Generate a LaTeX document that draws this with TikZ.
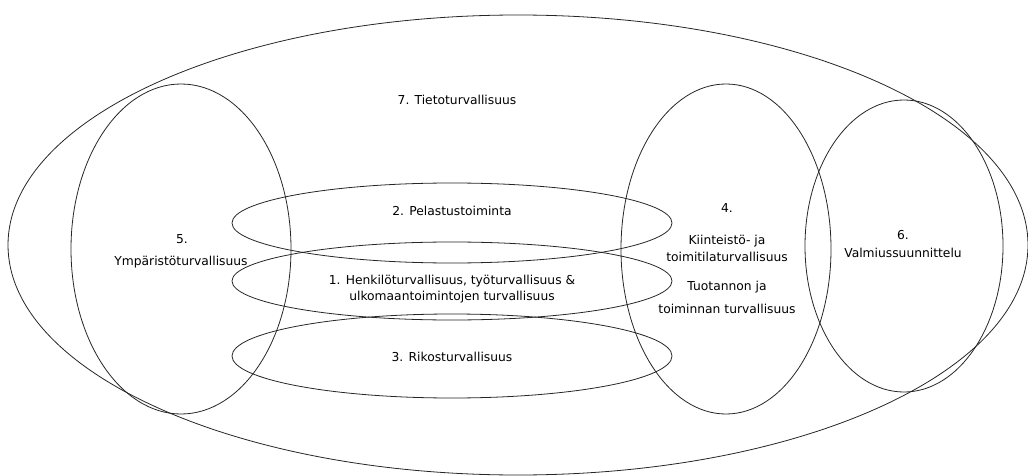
\documentclass[tikz,border=0pt]{standalone}
\usepackage{fontspec}
\setmainfont{DejaVu Sans}
\begin{document}
\begin{tikzpicture}[x=1pt,y=-1pt,
  ring/.style={draw=black!85, line width=0.8pt},
  lbl/.style={inner sep=0pt, font=\fontsize{12.3}{14}\selectfont, align=center}]
\useasboundingbox (0,0) rectangle (1028,476);
% outer ellipse 7
\draw[ring] (518,245) ellipse [x radius=510pt, y radius=230pt];
% vertical ellipses
\draw[ring] (181,249) ellipse [x radius=110pt, y radius=165pt];
\draw[ring] (726,249) ellipse [x radius=105pt, y radius=165pt];
\draw[ring] (904,246) ellipse [x radius=99pt, y radius=146pt];
% horizontal ellipses
\draw[ring] (452,223) ellipse [x radius=220pt, y radius=40pt];
\draw[ring] (452,281) ellipse [x radius=220pt, y radius=39pt];
\draw[ring] (452,356) ellipse [x radius=220pt, y radius=42pt];
% labels
\node[lbl] (t7) at (457,100) {7. Tietoturvallisuus};
\node[lbl] (t2) at (452,211) {2. Pelastustoiminta};
\node[lbl] (t1a) at (452,281) {1. Henkilöturvallisuus, työturvallisuus \&};
\node[lbl] (t1b) at (452,297) {ulkomaantoimintojen turvallisuus};
\node[lbl] (t3) at (452,357) {3. Rikosturvallisuus};
\node[lbl] (t5a) at (182,239) {5.};
\node[lbl] (t5b) at (181,262) {Ympäristöturvallisuus};
\node[lbl] (t4a) at (727,208) {4.};
\node[lbl] (t4b) at (727,241) {Kiinteistö- ja};
\node[lbl] (t4c) at (727,257) {toimitilaturvallisuus};
\node[lbl] (t4d) at (727,287) {Tuotannon ja};
\node[lbl] (t4e) at (727,309) {toiminnan turvallisuus};
\node[lbl] (t6a) at (903,235) {6.};
\node[lbl] (t6b) at (903,253) {Valmiussuunnittelu};
\end{tikzpicture}
\end{document}
